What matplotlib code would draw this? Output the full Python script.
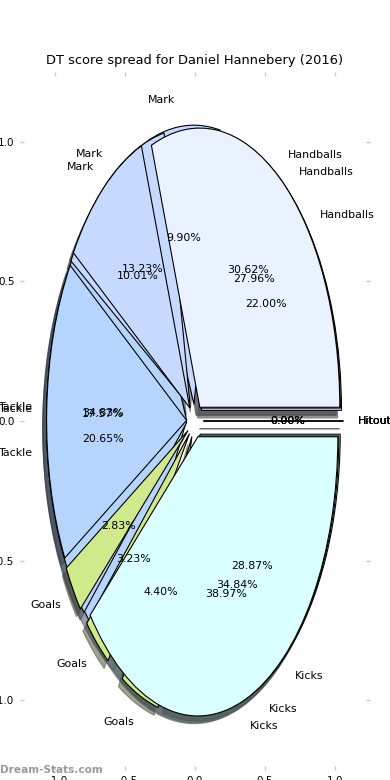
import matplotlib
matplotlib.use('Agg')
import matplotlib.pyplot as plt

categories = ['Handballs', 'Mark', 'Tackle', 'Goals', 'Kicks', 'Hitout']
season_a = [30.62, 10.01, 17.57, 2.83, 38.97, 0.0]
season_b = [27.96, 13.23, 20.65, 3.23, 34.84, 0.0]
season_c = [22.00, 9.90, 34.83, 4.40, 28.87, 0.0]
colors = ['#eaf1ff', '#c6d9ff', '#b5d5ff', '#d0e98a', '#d9ffff', '#ffffff']
title = 'DT score spread for Daniel Hannebery (2016)'
ticks = [-1.0, -0.5, 0.0, 0.5, 1.0]

fig = plt.figure(figsize=(3.9, 7.8), dpi=100)
ax = fig.add_axes([20/390, 10/780, 350/390, 698/780])
for vals in (season_c, season_b, season_a):
    total = sum(vals)
    ax.pie(vals, labels=categories, colors=colors,
           autopct=lambda p, s=total: '%1.2f%%' % (p * s / 100.0),
           explode=[0.06]*len(vals), shadow=True, startangle=0, frame=True,
           wedgeprops=dict(edgecolor='black', linewidth=0.8),
           textprops=dict(fontsize=7.9))

ax.set_aspect('auto')
ax.set_xlim(-1.25, 1.25)
ax.set_ylim(-1.25, 1.25)
ax.set_xticks(ticks)
ax.set_yticks(ticks)
ax.set_frame_on(False)
ax.tick_params(axis='both', direction='in', length=3, width=1, color='#c8c8c8',
               labelsize=7.5, top=True, right=True, labeltop=False, labelright=False, pad=4)
ax.set_title(title, fontsize=9.4, pad=6)
fig.text(0.0, 10/780, 'Dream-Stats.com', color='#9a9a9a', fontsize=7.6,
         fontweight='bold', ha='left', va='center')
fig.savefig('out.png', dpi=100)
